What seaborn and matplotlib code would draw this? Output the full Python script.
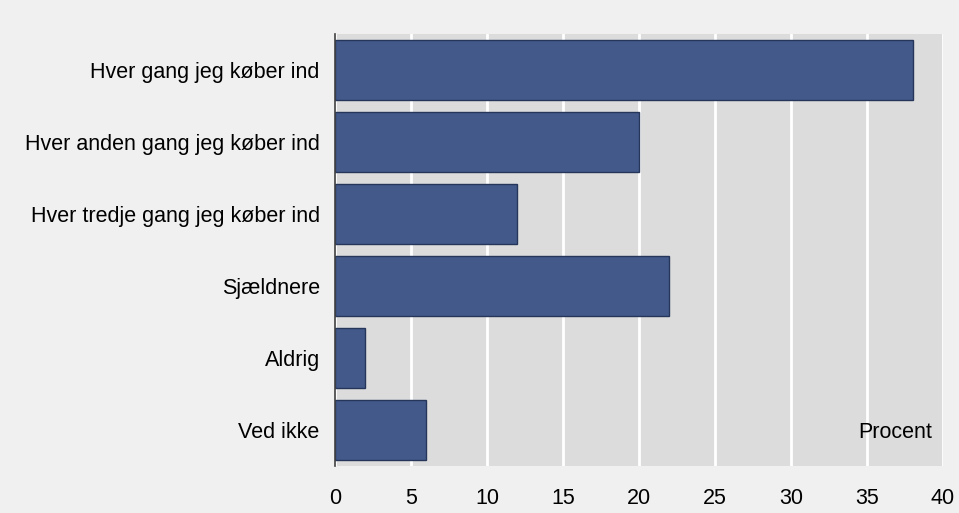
import matplotlib
matplotlib.use("Agg")
import matplotlib.pyplot as plt
import seaborn as sns
import pandas as pd

categories = [
    "Hver gang jeg køber ind",
    "Hver anden gang jeg køber ind",
    "Hver tredje gang jeg køber ind",
    "Sjældnere",
    "Aldrig",
    "Ved ikke",
]
values = [38, 20, 12, 22, 2, 6]
x_ticks = [0, 5, 10, 15, 20, 25, 30, 35, 40]

df = pd.DataFrame({"kategori": categories, "procent": values})

sns.set_style("white")
plt.rcParams["font.family"] = ["Liberation Sans", "DejaVu Sans"]
plt.rcParams["text.color"] = "black"

fig = plt.figure(figsize=(9.59, 5.13), dpi=100, facecolor="#f0f0f0")
ax = fig.add_axes([335 / 959, 1 - 466 / 513, 608 / 959, 432 / 513])
ax.set_facecolor("#dcdcdc")

sns.barplot(
    data=df, x="procent", y="kategori", orient="h", ax=ax,
    color="#42598a", saturation=1, width=0.83,
    edgecolor="#26365a", linewidth=1, zorder=3,
)

ax.set_xlim(0, 40)
ax.set_xticks(x_ticks)
ax.set_xticklabels([str(t) for t in x_ticks])
ax.grid(axis="x", color="white", linewidth=2, zorder=0)
ax.grid(axis="y", visible=False)
ax.set_axisbelow(True)

for side in ["top", "right", "bottom"]:
    ax.spines[side].set_visible(False)
ax.spines["left"].set_color("#404040")
ax.spines["left"].set_linewidth(1.2)
ax.spines["left"].set_zorder(4)

ax.tick_params(axis="both", length=0, labelsize=15.5, colors="black")
ax.tick_params(axis="y", pad=11)
ax.tick_params(axis="x", pad=15.5)
ax.set_xlabel("")
ax.set_ylabel("")

ax.text(0.982, 0.078, "Procent", transform=ax.transAxes, ha="right",
        va="center", fontsize=15.5, color="black", zorder=5)

fig.savefig("out.png", dpi=100, facecolor=fig.get_facecolor())
